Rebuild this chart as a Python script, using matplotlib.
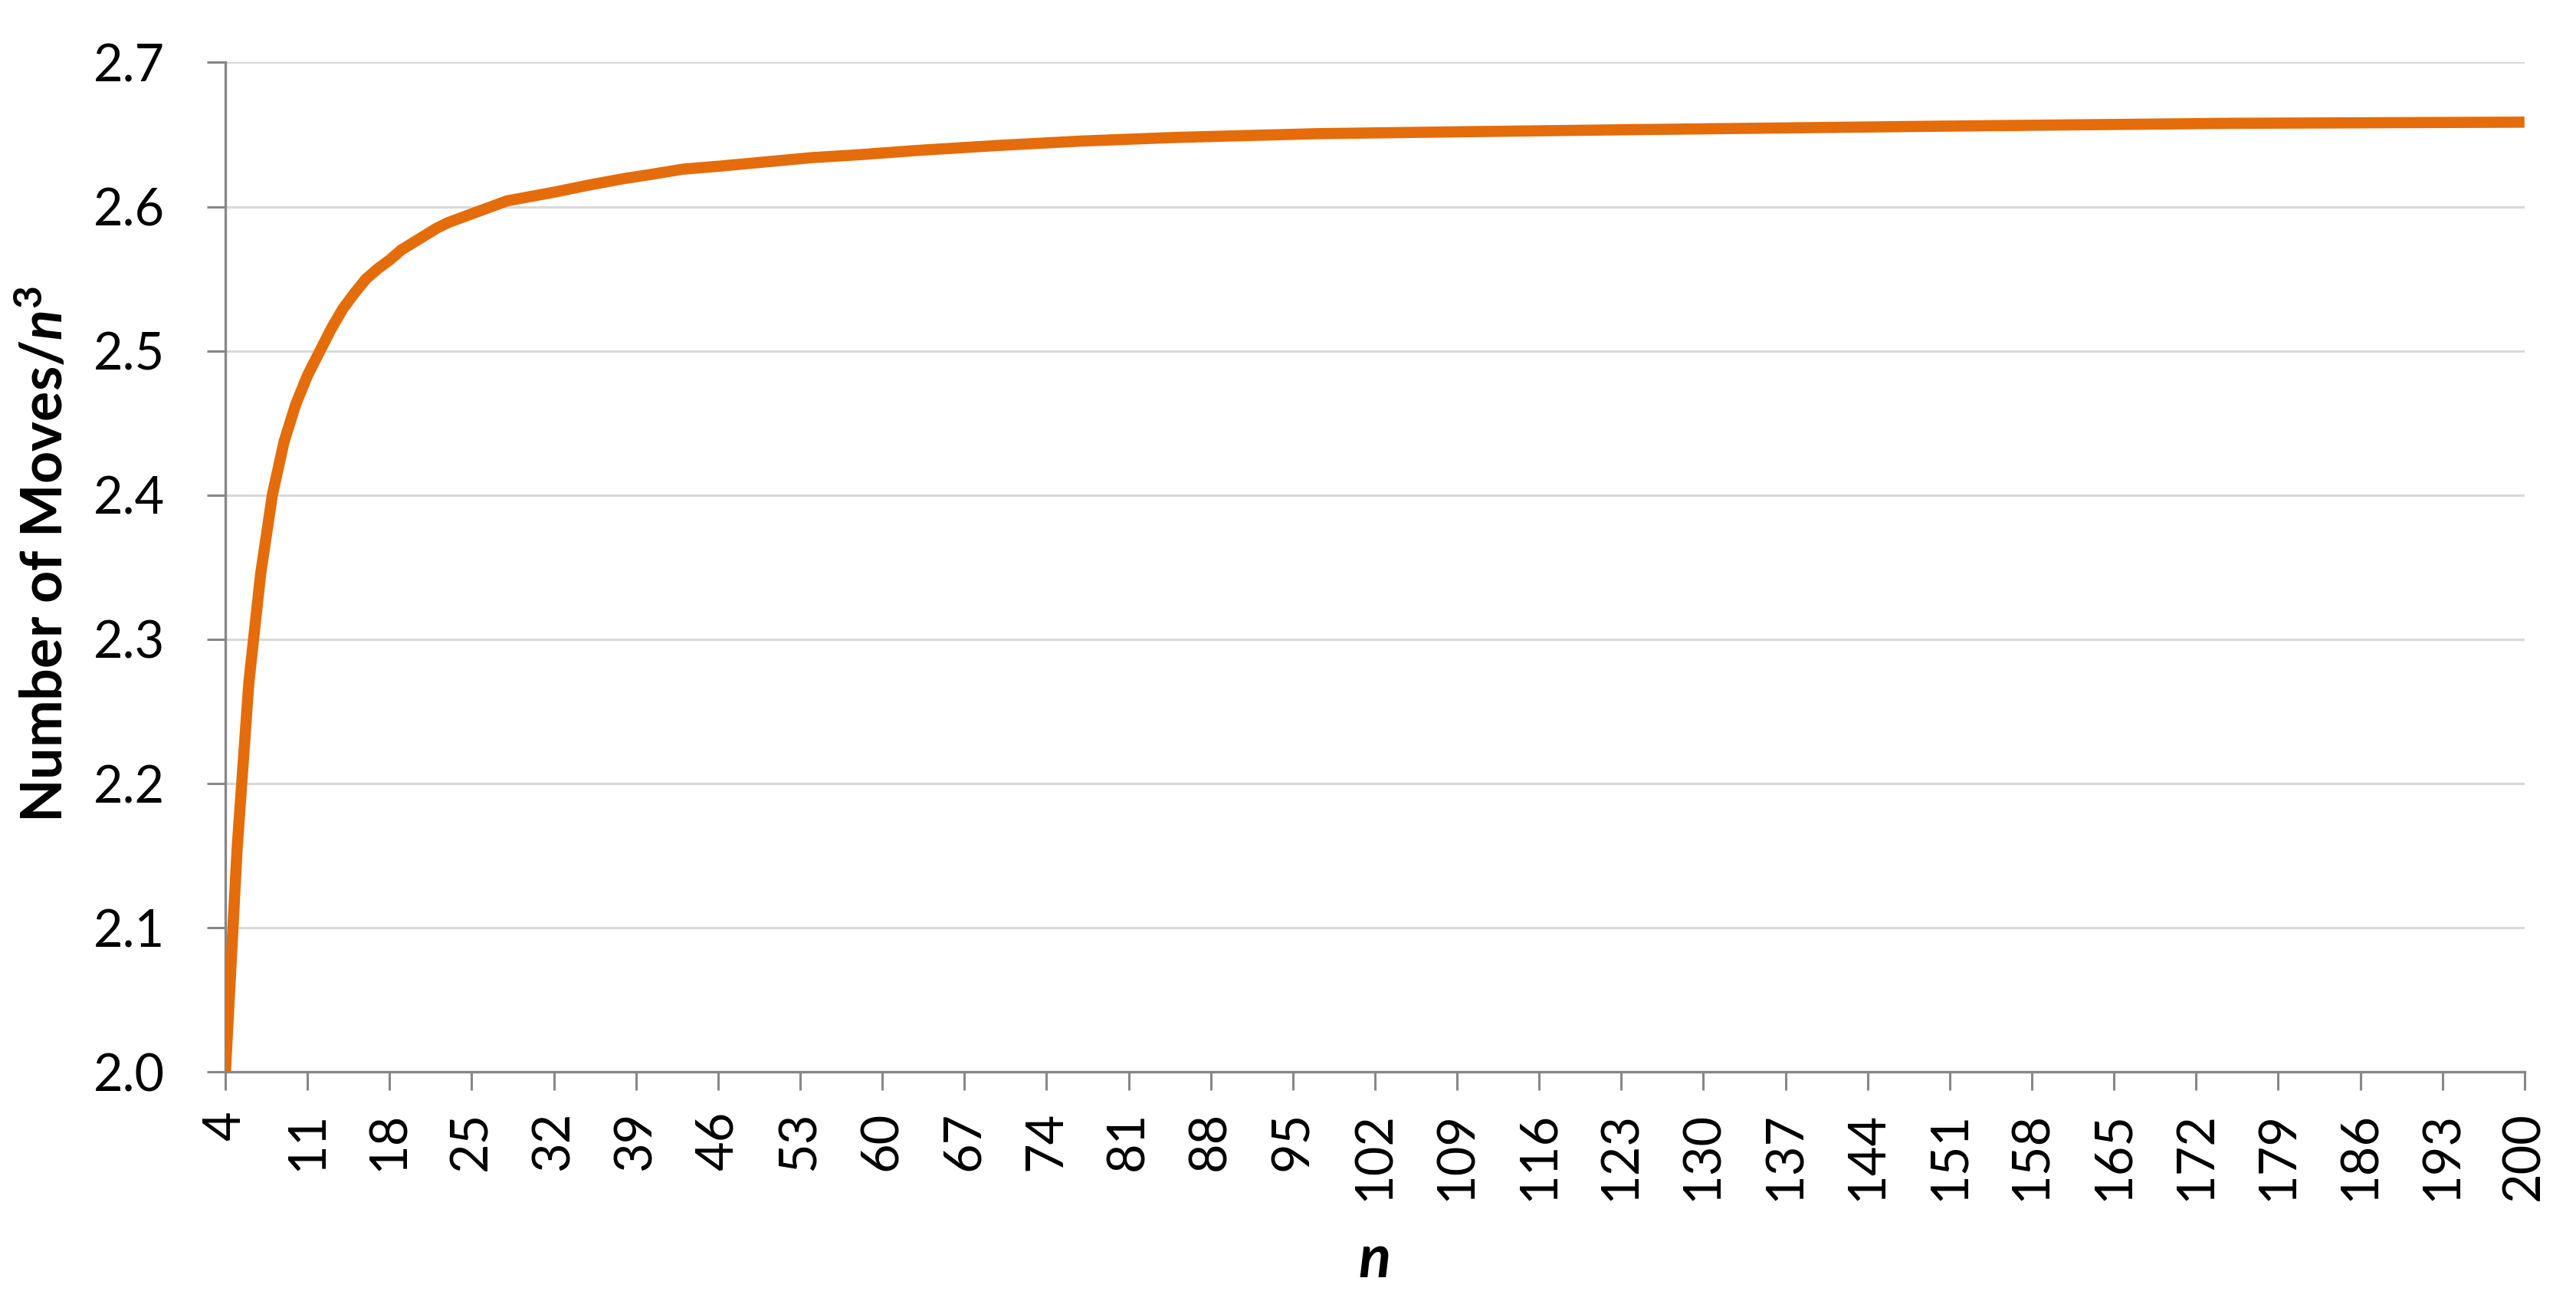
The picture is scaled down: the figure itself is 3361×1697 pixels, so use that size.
import matplotlib
matplotlib.use('Agg')
import matplotlib.pyplot as plt
import numpy as np

# values (moves / n^3)
n_values = [4, 5, 6, 7, 8, 9, 10, 11, 12, 13, 14, 15, 16, 17, 18, 19, 20,
            21, 22, 23, 24, 25, 26, 27, 28, 30, 32, 35, 38, 40, 43, 46, 50,
            54, 58, 63, 70, 77, 85, 97, 110, 125, 150, 175, 200]
moves_ratio = [2.000, 2.155, 2.270, 2.345, 2.400, 2.437, 2.463, 2.483,
               2.499, 2.515, 2.529, 2.540, 2.550, 2.557, 2.563, 2.570,
               2.575, 2.580, 2.585, 2.589, 2.592, 2.595, 2.598, 2.601,
               2.604, 2.607, 2.610, 2.615, 2.6195, 2.622, 2.626, 2.628,
               2.631, 2.634, 2.636, 2.639, 2.6425, 2.6455, 2.648, 2.6506,
               2.652, 2.6535, 2.6558, 2.6578, 2.6586]
x_ticks = list(range(4, 201, 7))
y_ticks = [2.0, 2.1, 2.2, 2.3, 2.4, 2.5, 2.6, 2.7]

plt.rcParams['font.family'] = ['Lato', 'DejaVu Sans']
plt.rcParams['mathtext.fontset'] = 'custom'
plt.rcParams['mathtext.rm'] = 'Lato'
plt.rcParams['mathtext.it'] = 'Lato:italic'
plt.rcParams['mathtext.bf'] = 'Lato:bold'
plt.rcParams['mathtext.bfit'] = 'Lato:italic:bold'

AXIS_GREY = '#878787'
GRID_GREY = '#d9d9d9'
ORANGE = '#e46c0a'

fig = plt.figure(figsize=(33.61, 16.97), dpi=100, facecolor='white')
ax = fig.add_axes([0.0875, 0.176, 0.8925, 0.776])

ax.plot(n_values, moves_ratio, color=ORANGE, lw=10.5,
        solid_capstyle='butt', solid_joinstyle='round', zorder=3)

ax.set_xlim(4, 200)
ax.set_ylim(2.0, 2.7)
ax.set_xticks(x_ticks)
ax.set_xticklabels([str(t) for t in x_ticks], rotation=90)
ax.set_yticks(y_ticks)
ax.set_yticklabels([f'{t:.1f}' for t in y_ticks])

ax.grid(axis='y', color=GRID_GREY, lw=2.2, zorder=0)
ax.set_axisbelow(True)
for side in ('top', 'right'):
    ax.spines[side].set_visible(False)
for side in ('left', 'bottom'):
    ax.spines[side].set_color(AXIS_GREY)
    ax.spines[side].set_linewidth(2.4)

ax.tick_params(axis='both', colors=AXIS_GREY, length=17, width=2.2,
               labelcolor='black', labelsize=48)
ax.tick_params(axis='y', pad=40)
ax.tick_params(axis='x', pad=20)

ax.set_ylabel(r'Number of Moves/$\mathbfit{n}^{\mathregular{3}}$',
              fontsize=53, fontweight='bold')
ax.yaxis.set_label_coords(-0.0663, 0.513)
ax.set_xlabel('n', fontsize=56, fontweight='bold', fontstyle='italic',
              labelpad=30)

fig.savefig('out.png', dpi=100, facecolor='white')
